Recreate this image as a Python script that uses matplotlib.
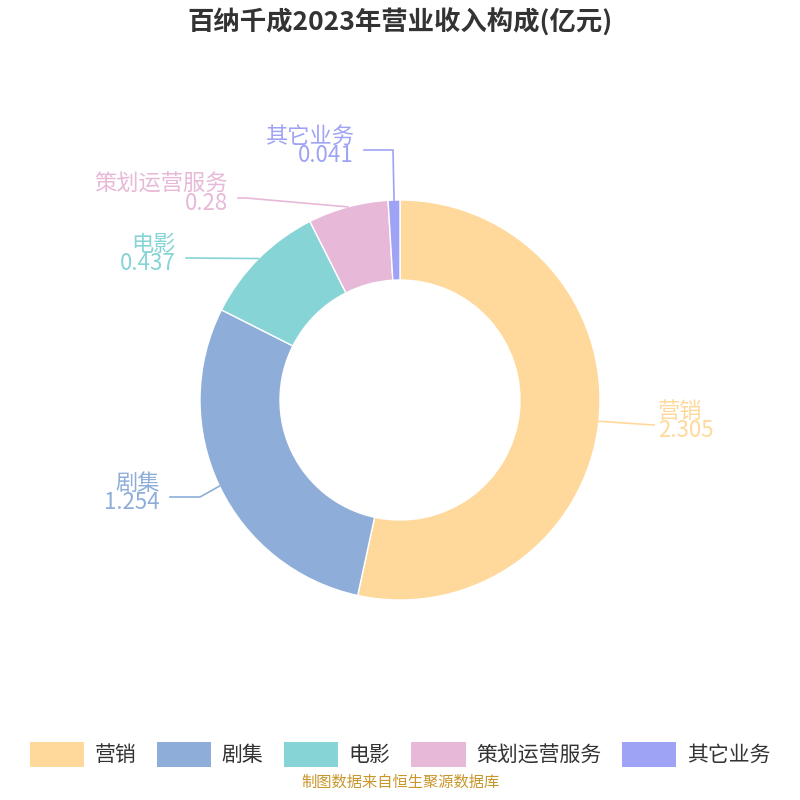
import numpy as np
import matplotlib.pyplot as plt
from matplotlib.patches import Patch

plt.rcParams['font.family'] = ['Noto Sans CJK SC', 'DejaVu Sans']

labels = ['营销', '剧集', '电影', '策划运营服务', '其它业务']
values = [2.305, 1.254, 0.437, 0.28, 0.041]
value_text = ['2.305', '1.254', '0.437', '0.28', '0.041']
colors = ['#ffd99b', '#8eaed9', '#86d4d6', '#e8b8d8', '#9fa3f5']

fig = plt.figure(figsize=(8, 8), dpi=100)
ax = fig.add_axes([0, 0, 1, 1])

wedges, _ = ax.pie(values, colors=colors, startangle=90, counterclock=False,
                   radius=1, wedgeprops=dict(width=0.4, edgecolor='white', linewidth=1))
ax.set_aspect('auto')
ax.set_xlim(-2, 2)
ax.set_ylim(-2, 2)
ax.axis('off')

# elbow point and text end (in data units, radius 1 = 200px)
elbows = [(1.27, -0.125), (-1.0, -0.485), (-1.05, 0.71), (-0.77, 1.01), (-0.035, 1.25)]
ends = [(1.27, -0.125), (-1.15, -0.485), (-1.07, 0.71), (-0.81, 1.01), (-0.18, 1.25)]
for w, lab, vt, c, el, en in zip(wedges, labels, value_text, colors, elbows, ends):
    ang = np.deg2rad((w.theta1 + w.theta2) / 2)
    p = (np.cos(ang), np.sin(ang))
    if lab == '营销':
        ax.plot([p[0], el[0]], [p[1], el[1]], color=c, lw=1.2, clip_on=False)
        tx, ha = el[0] + 0.02, 'left'
    else:
        ax.plot([p[0], el[0], en[0]], [p[1], el[1], en[1]], color=c, lw=1.2, clip_on=False)
        tx, ha = en[0] - 0.05, 'right'
    ty = el[1]
    ax.text(tx, ty + 0.01, lab, color=c, fontsize=16, ha=ha, va='bottom')
    ax.text(tx, ty + 0.03, vt, color=c, fontsize=16, ha=ha, va='top')

fig.text(0.5, 0.972, '百纳千成2023年营业收入构成(亿元)', ha='center', va='center',
         fontsize=19, fontweight='bold', color='#333333')

handles = [Patch(facecolor=c, label=l) for l, c in zip(labels, colors)]
fig.legend(handles=handles, loc='center', bbox_to_anchor=(0.5, 0.057), ncol=5,
           frameon=False, fontsize=15, handlelength=2.6, handleheight=1.5,
           columnspacing=1.0, handletextpad=0.5, labelcolor='#333333')

fig.text(0.5, 0.012, '制图数据来自恒生聚源数据库', ha='center', va='bottom',
         fontsize=11, color='#c8962a')

fig.savefig('out.png', dpi=100)
